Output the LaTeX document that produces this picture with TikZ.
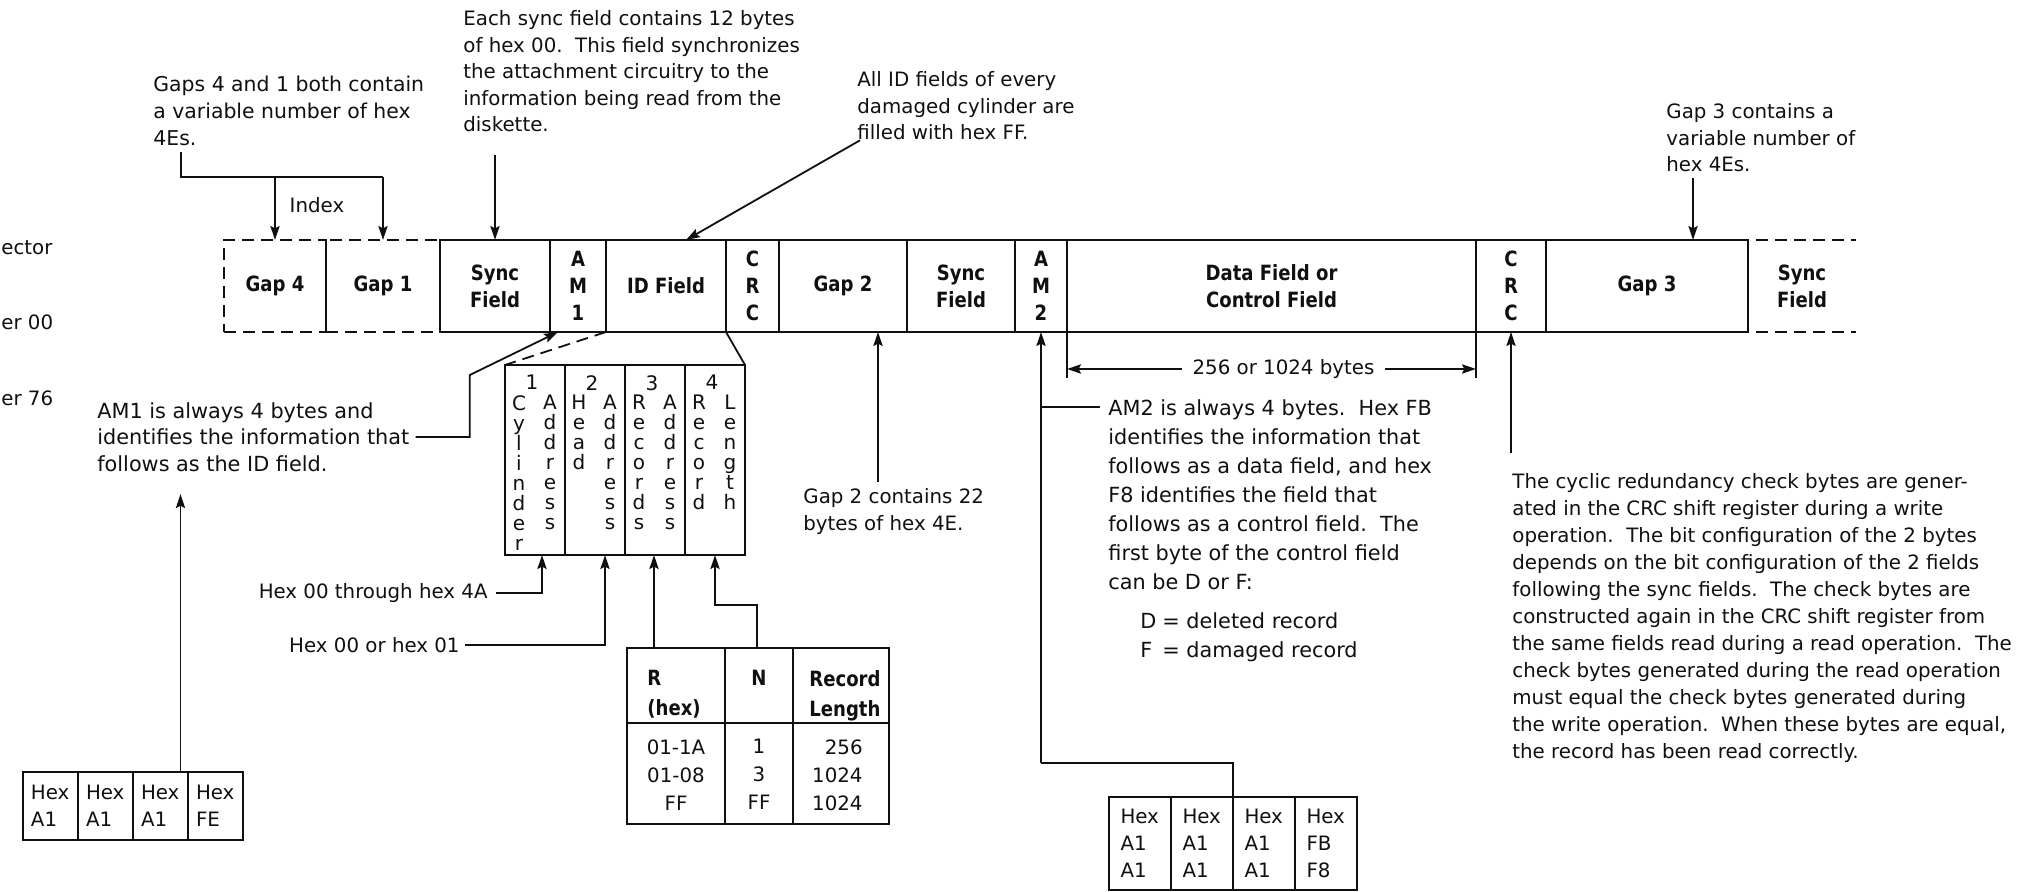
\documentclass[tikz,border=0pt]{standalone}
\usepackage{fontspec}
\setmainfont{DejaVu Sans}
\newfontfamily\fieldfam[FakeStretch=0.86]{DejaVu Sans}
\usetikzlibrary{arrows.meta,positioning,calc}
\definecolor{ink}{HTML}{101010}
\newcommand{\notefont}{\fontsize{9.9}{13.3}\selectfont}
\newcommand{\widenote}{\fontsize{10.4}{13.3}\selectfont}
\newcommand{\fieldfont}{\fieldfam\bfseries\fontsize{10.5}{13.5}\selectfont}
\newcommand{\headfont}{\fieldfam\bfseries\fontsize{10.5}{15}\selectfont}
\newcommand{\stackfont}{\fontsize{10}{10}\selectfont}
\tikzset{
  fieldbox/.style={draw=ink, line width=1.1pt, minimum height=46pt, inner sep=0pt,
                   outer sep=0pt, align=center, text=ink, font=\fieldfont},
  gapbox/.style={fieldbox, dash pattern=on 6pt off 3.5pt},
  note/.style={anchor=north west, align=left, inner sep=0pt, text=ink, font=\notefont},
  stack/.style={anchor=north, align=center, inner sep=0pt, text=ink, font=\stackfont},
  hexcell/.style={draw=ink, line width=0.9pt, outer sep=0pt, inner xsep=4pt,
                  text width=19.5pt, align=left, text=ink, font=\notefont},
  lead/.style={line width=0.9pt, draw=ink},
  dashlead/.style={lead, dash pattern=on 6pt off 3.5pt},
  arr/.style={lead, -{Stealth[length=7pt,width=4.6pt,inset=1.2pt]}}}

\begin{document}
\begin{tikzpicture}[x=0.5pt, y=-0.5pt]
  \path[fill=white, use as bounding box] (0,0) rectangle (2025,892);

  \node[gapbox, minimum width=51pt, anchor=north west] (gap4) at (224,240) {Gap 4};
  \node[gapbox, minimum width=57pt, right=0pt of gap4] (gap1) {Gap 1};
  \node[fieldbox, minimum width=55pt, right=0pt of gap1] (sync1) {Sync\\Field};
  \node[fieldbox, minimum width=28pt, right=0pt of sync1] (am1) {A\\M\\1};
  \node[fieldbox, minimum width=60pt, right=0pt of am1] (idf) {ID Field};
  \node[fieldbox, minimum width=26.5pt, right=0pt of idf] (crc1) {C\\R\\C};
  \node[fieldbox, minimum width=64pt, right=0pt of crc1] (gap2) {Gap 2};
  \node[fieldbox, minimum width=54pt, right=0pt of gap2] (sync2) {Sync\\Field};
  \node[fieldbox, minimum width=26pt, right=0pt of sync2] (am2) {A\\M\\2};
  \node[fieldbox, minimum width=204.5pt, right=0pt of am2] (data) {Data Field or\\Control Field};
  \node[fieldbox, minimum width=35pt, right=0pt of data] (crc2) {C\\R\\C};
  \node[fieldbox, minimum width=101pt, right=0pt of crc2] (gap3) {Gap 3};
  \node[fieldbox, draw=none, minimum width=54pt, right=0pt of gap3] (sync3) {Sync\\Field};
  \draw[dashlead, line width=1.1pt] ($(sync3.north west)+(8,0)$) -- (sync3.north east);
  \draw[dashlead, line width=1.1pt] ($(sync3.south west)+(8,0)$) -- (sync3.south east);

  \node[note, anchor=west] (sectorlbl) at (1,248) {ector};
  \node[note, anchor=west] (cylzero) at (1,322) {er 00};
  \node[note, anchor=west] (cyllast) at (1,398) {er 76};

  \node[note, font=\fontsize{10.2}{13.3}\selectfont] (gapsnote) at (153,76) {Gaps 4 and 1 both contain\\a variable number of hex\\4Es.};
  \draw[lead] ($(gapsnote.south west)+(28,6)$) |- ($(gap1.north)+(0,-63)$);
  \draw[arr] ($(gap4.north)+(0,-63)$) -- (gap4.north);
  \draw[arr] ($(gap1.north)+(0,-63)$) -- (gap1.north);
  \node[note, anchor=center] (indexlbl) at (317,205) {Index};

  \node[note] (syncnote) at (463,10) {Each sync field contains 12 bytes\\of hex 00.\ \ This field synchronizes\\the attachment circuitry to the\\information being read from the\\diskette.};
  \draw[arr] ($(sync1.north |- syncnote.south)+(0,22)$) -- (sync1.north);

  \node[note] (idnote) at (857,71) {All ID fields of every\\damaged cylinder are\\filled with hex FF.};
  \draw[arr] ($(idnote.south west)+(3,0)$) -- ($(idf.north)+(20,0)$);

  \node[note] (gap3note) at (1666,103) {Gap 3 contains a\\variable number of\\hex 4Es.};
  \draw[arr] ($(gap3.north)+(46,-62)$) -- ($(gap3.north)+(46,0)$);

  \node[draw=ink, line width=0.9pt, outer sep=0pt, inner sep=0pt, minimum width=120pt,
        minimum height=95pt, anchor=north west] (idexp) at (505,365) {};
  \foreach \k in {1,2,3}
    \draw[lead] ($(idexp.north west)+(\k*60,0)$) -- ($(idexp.south west)+(\k*60,0)$);
  \draw[dashlead] (am1.south east) -- (idexp.north west);
  \draw[lead] (crc1.south west) -- (idexp.north east);
  \foreach \n/\wa/\wb in {1/{C\\y\\l\\i\\n\\d\\e\\r}/{A\\d\\d\\r\\e\\s\\s},
                          2/{H\\e\\a\\d}/{A\\d\\d\\r\\e\\s\\s},
                          3/{R\\e\\c\\o\\r\\d\\s}/{A\\d\\d\\r\\e\\s\\s},
                          4/{R\\e\\c\\o\\r\\d}/{L\\e\\n\\g\\t\\h}} {
    \node[stack] (num\n) at ($(idexp.north west)+(\n*60-33,10)$) {\n};
    \node[stack] (wa\n) at ($(idexp.north west)+(\n*60-46,30)$) {\wa};
    \node[stack] (wb\n) at ($(idexp.north west)+(\n*60-15,30)$) {\wb};
  }

  \node[note, font=\widenote] (am1note) at (97,402) {AM1 is always 4 bytes and\\identifies the information that\\follows as the ID field.};
  \draw[arr] ($(am1note.east)+(6,0)$) -- ++(54,0) -- ++(0,-62) -- ($(am1.south west)+(8,0)$);

  \node[hexcell, minimum height=34pt, anchor=north west] (amA1) at (23,772) {Hex\\A1};
  \foreach \v/\p/\i in {A1/1/2, A1/2/3, FE/3/4}
    \node[hexcell, minimum height=34pt, right=0pt of amA\p] (amA\i) {Hex\\\v};
  \draw[arr] ($(amA3.north)+(20,0)$) -- ($(amA3.north |- am1note.south)+(20,22)$);

  \node[note, anchor=east] (cylrange) at (488,593) {Hex 00 through hex 4A};
  \node[note, anchor=east] (headrange) at (460,645) {Hex 00 or hex 01};
  \draw[arr] ($(cylrange.east)+(8,0)$) -| ($(idexp.south west)+(37,0)$);
  \draw[arr] ($(headrange.east)+(5,0)$) -| ($(idexp.south west)+(100,0)$);

  \node[draw=ink, line width=0.9pt, outer sep=0pt, inner sep=0pt, minimum width=131pt,
        minimum height=88pt, anchor=north west] (rtab) at (627,648) {};
  \draw[lead] ($(rtab.north west)+(98,0)$) -- ($(rtab.south west)+(98,0)$);
  \draw[lead] ($(rtab.north west)+(166,0)$) -- ($(rtab.south west)+(166,0)$);
  \draw[lead] ($(rtab.north west)+(0,75)$) -- ($(rtab.north east)+(0,75)$);
  \node[note, font=\headfont] (rhead) at ($(rtab.north west)+(20,22)$) {R\\(hex)};
  \node[note, font=\headfont, anchor=north] (nhead) at ($(rtab.north west)+(132,22)$) {N};
  \node[note, font=\headfont] (lenhead) at ($(rtab.north west)+(182,22)$) {Record\\Length};
  \node[note, anchor=north, align=center, font=\fontsize{9.9}{14}\selectfont] (rcol) at ($(rtab.north west)+(49,91)$) {01-1A\\01-08\\FF};
  \node[note, anchor=north, align=center, font=\fontsize{9.9}{14}\selectfont] (ncol) at ($(rtab.north west)+(132,91)$) {1\\3\\FF};
  \node[note, anchor=north east, align=right, font=\fontsize{9.9}{14}\selectfont] (lencol) at ($(rtab.north west)+(236,91)$) {256\\1024\\1024};
  \draw[arr] ($(rtab.north west)+(27,0)$) -- ($(rtab.north west |- idexp.south)+(27,0)$);
  \draw[arr] ($(rtab.north west)+(130,0)$) -- ++(0,-43) -| ($(idexp.south west)+(210,0)$);

  \node[note] (gap2note) at (803,488) {Gap 2 contains 22\\bytes of hex 4E.};
  \draw[arr] ($(gap2.south |- gap2note.north)+(35,-6)$) -- ($(gap2.south)+(35,0)$);

  \draw[lead] (data.south west) -- ++(0,46);
  \draw[lead] (data.south east) -- ++(0,46);
  \node[note, anchor=center, fill=white, inner xsep=5pt] (dimlbl) at ($(data.south)+(12,37)$) {256 or 1024 bytes};
  \draw[arr] (dimlbl.west) -- (dimlbl.west -| data.south west);
  \draw[arr] (dimlbl.east) -- (dimlbl.east -| data.south east);

  \node[note, font=\fontsize{10.4}{14.5}\selectfont] (am2note) at (1108,399) {AM2 is always 4 bytes.\ \ Hex FB\\identifies the information that\\follows as a data field, and hex\\F8 identifies the field that\\follows as a control field.\ \ The\\first byte of the control field\\can be D or F:\\[5pt]\hspace*{16pt}\makebox[11pt][l]{D}= deleted record\\\hspace*{16pt}\makebox[11pt][l]{F}= damaged record};
  \coordinate (am2bend) at ($(am2.south)+(0,431)$);
  \draw[arr] (am2bend) -- (am2.south);
  \draw[lead] (am2.south |- am2note.north) ++(0,8) -- ($(am2note.north west)+(-8,8)$);

  \node[hexcell, text width=19.5pt, inner xsep=5.75pt, minimum height=46.5pt, font=\fontsize{9.9}{13.5}\selectfont, anchor=north west] (amB1) at (1109,797) {Hex\\A1\\A1};
  \foreach \v/\w/\p/\i in {A1/A1/1/2, A1/A1/2/3, FB/F8/3/4}
    \node[hexcell, text width=19.5pt, inner xsep=5.75pt, minimum height=46.5pt, font=\fontsize{9.9}{13.5}\selectfont, right=0pt of amB\p] (amB\i) {Hex\\\v\\\w};
  \draw[lead] (am2bend) -| (amB3.north west);

  \node[note, font=\fontsize{9.9}{13.5}\selectfont] (crcnote) at (1512,473) {The cyclic redundancy check bytes are gener-\\ated in the CRC shift register during a write\\operation.\ \ The bit configuration of the 2 bytes\\depends on the bit configuration of the 2 fields\\following the sync fields.\ \ The check bytes are\\constructed again in the CRC shift register from\\the same fields read during a read operation.\ \ The\\check bytes generated during the read operation\\must equal the check bytes generated during\\the write operation.\ \ When these bytes are equal,\\the record has been read correctly.};
  \draw[arr] ($(crc2.south |- crcnote.north)+(0,-20)$) -- (crc2.south);
\end{tikzpicture}
\end{document}
